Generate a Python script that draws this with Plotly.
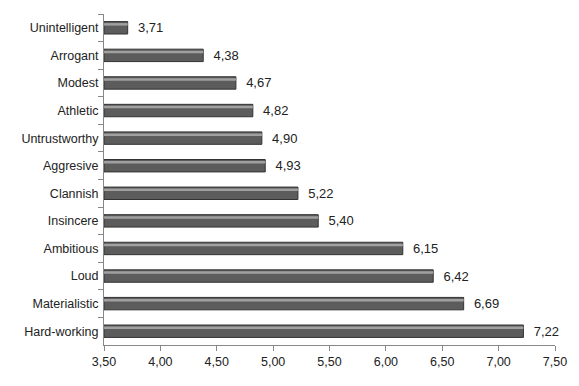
import plotly.graph_objects as go

categories = ["Unintelligent", "Arrogant", "Modest", "Athletic", "Untrustworthy", "Aggresive",
              "Clannish", "Insincere", "Ambitious", "Loud", "Materialistic", "Hard-working"]
values = [3.71, 4.38, 4.67, 4.82, 4.90, 4.93, 5.22, 5.40, 6.15, 6.42, 6.69, 7.22]
tick_vals = [3.5, 4.0, 4.5, 5.0, 5.5, 6.0, 6.5, 7.0, 7.5]
tick_text = ["3,50", "4,00", "4,50", "5,00", "5,50", "6,00", "6,50", "7,00", "7,50"]

base = 3.5
lengths = [v - base for v in values]
labels = ["  " + f"{v:.2f}".replace(".", ",") for v in values]

fig = go.Figure()
fig.add_trace(go.Bar(
    y=categories, x=lengths, base=base, orientation="h",
    marker=dict(color="#5c5c5c", line=dict(color="#333333", width=1)),
    width=0.45,
    text=labels, textposition="outside", cliponaxis=False, constraintext="none",
    textfont=dict(family="Liberation Sans, Arial", size=13, color="#222"),
    hoverinfo="skip",
))
fig.add_trace(go.Bar(
    y=categories, x=lengths, base=base, orientation="h",
    marker=dict(color="#a0a0a0", line=dict(width=0)),
    width=0.09, offset=-0.17,
    hoverinfo="skip",
))
fig.update_layout(
    width=579, height=386,
    margin=dict(l=96, r=32, t=6, b=49),
    paper_bgcolor="white", plot_bgcolor="white",
    barmode="overlay", showlegend=False,
    font=dict(family="Liberation Sans, Arial", size=12.5, color="#222"),
)
fig.update_xaxes(range=[3.5, 7.5], tickvals=tick_vals, ticktext=tick_text, automargin=False,
                 showgrid=False, showline=True, linecolor="#888", ticks="outside",
                 tickcolor="#888", ticklen=5, zeroline=False)
fig.update_yaxes(categoryorder="array", categoryarray=categories, autorange="reversed",
                 automargin=False, tickfont=dict(size=12.5),
                 showgrid=False, showline=True, linecolor="#888", ticks="outside",
                 tickcolor="#888", ticklen=5, tickson="boundaries", ticklabelstandoff=2)
fig.write_html("out.html")
